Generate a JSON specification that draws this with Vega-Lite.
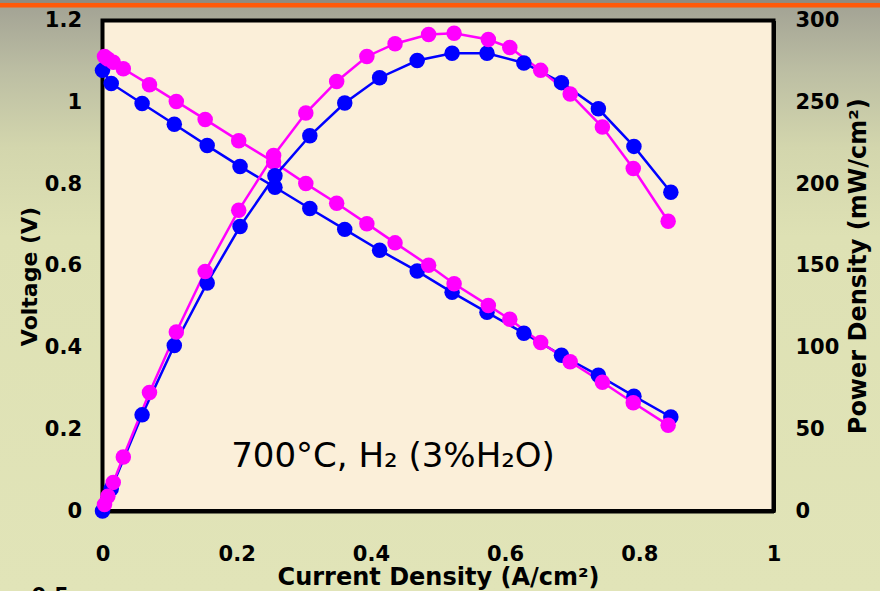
{
  "$schema": "https://vega.github.io/schema/vega-lite/v6.json",
  "width": 880,
  "height": 591,
  "padding": 0,
  "autosize": {"type": "none"},
  "background": "#e0e3b7",
  "view": {
    "stroke": null,
    "fill": {
      "gradient": "linear",
      "x1": 0, "y1": 0, "x2": 0, "y2": 1,
      "stops": [
        {"offset": 0, "color": "#8e8c82"},
        {"offset": 0.0042, "color": "#8e8c82"},
        {"offset": 0.0046, "color": "#ff5a0a"},
        {"offset": 0.0124, "color": "#ff5a0a"},
        {"offset": 0.013, "color": "#a4a495"},
        {"offset": 0.12, "color": "#bcbea3"},
        {"offset": 0.25, "color": "#d3d6ad"},
        {"offset": 0.4, "color": "#dee1b4"},
        {"offset": 1, "color": "#e1e4b8"}
      ]
    }
  },
  "config": {
    "axis": {
      "grid": false,
      "domainColor": "black",
      "domainWidth": 4,
      "tickColor": "black",
      "tickWidth": 2.5,
      "tickSize": -8,
      "labelFont": "DejaVu Sans",
      "labelFontSize": 21,
      "labelFontWeight": "bold",
      "labelColor": "black",
      "labelFlush": false,
      "labelOverlap": false,
      "titleFont": "DejaVu Sans",
      "titleFontSize": 24,
      "titleFontWeight": "bold",
      "titleColor": "black",
      "zindex": 1
    }
  },
  "datasets": {
    "iv": [
      {"s": "b", "I": 0.000, "V": 1.078, "P": 0},
      {"s": "b", "I": 0.013, "V": 1.046, "P": 13.6},
      {"s": "b", "I": 0.059, "V": 0.997, "P": 58.8},
      {"s": "b", "I": 0.107, "V": 0.946, "P": 101.2},
      {"s": "b", "I": 0.156, "V": 0.894, "P": 139.5},
      {"s": "b", "I": 0.205, "V": 0.843, "P": 174},
      {"s": "b", "I": 0.257, "V": 0.792, "P": 205},
      {"s": "b", "I": 0.309, "V": 0.740, "P": 229.5},
      {"s": "b", "I": 0.361, "V": 0.689, "P": 249.5},
      {"s": "b", "I": 0.413, "V": 0.638, "P": 265},
      {"s": "b", "I": 0.469, "V": 0.587, "P": 275.5},
      {"s": "b", "I": 0.521, "V": 0.535, "P": 280},
      {"s": "b", "I": 0.573, "V": 0.486, "P": 280},
      {"s": "b", "I": 0.628, "V": 0.435, "P": 274},
      {"s": "b", "I": 0.684, "V": 0.381, "P": 262},
      {"s": "b", "I": 0.739, "V": 0.332, "P": 246},
      {"s": "b", "I": 0.792, "V": 0.281, "P": 223},
      {"s": "b", "I": 0.847, "V": 0.230, "P": 195},
      {"s": "m", "I": 0.003, "V": 1.112, "P": 4},
      {"s": "m", "I": 0.008, "V": 1.106, "P": 9},
      {"s": "m", "I": 0.016, "V": 1.098, "P": 17.5},
      {"s": "m", "I": 0.031, "V": 1.082, "P": 33},
      {"s": "m", "I": 0.070, "V": 1.043, "P": 72.5},
      {"s": "m", "I": 0.110, "V": 1.002, "P": 109.5},
      {"s": "m", "I": 0.153, "V": 0.958, "P": 146.5},
      {"s": "m", "I": 0.203, "V": 0.906, "P": 184},
      {"s": "m", "I": 0.255, "V": 0.854, "P": 217.5},
      {"s": "m", "I": 0.303, "V": 0.801, "P": 243.4},
      {"s": "m", "I": 0.349, "V": 0.753, "P": 262.7},
      {"s": "m", "I": 0.394, "V": 0.703, "P": 278},
      {"s": "m", "I": 0.436, "V": 0.656, "P": 285.8},
      {"s": "m", "I": 0.486, "V": 0.601, "P": 291.4},
      {"s": "m", "I": 0.524, "V": 0.556, "P": 292.2},
      {"s": "m", "I": 0.575, "V": 0.503, "P": 288.4},
      {"s": "m", "I": 0.607, "V": 0.469, "P": 283.5},
      {"s": "m", "I": 0.653, "V": 0.412, "P": 269.5},
      {"s": "m", "I": 0.697, "V": 0.365, "P": 255},
      {"s": "m", "I": 0.745, "V": 0.315, "P": 234.8},
      {"s": "m", "I": 0.791, "V": 0.265, "P": 209.5},
      {"s": "m", "I": 0.843, "V": 0.210, "P": 177.2}
    ]
  },
  "layer": [
    {
      "layer": [
        {
          "data": {"values": [{}]},
          "mark": {"type": "rect", "fill": "#fbefd9", "stroke": "black", "strokeWidth": 4},
          "encoding": {
            "x": {
              "datum": 0, "type": "quantitative",
              "scale": {"domain": [0, 1], "range": [102.5, 773.5], "nice": false, "zero": false},
              "axis": {
                "orient": "bottom", "offset": -80,
                "values": [0, 0.2, 0.4, 0.6, 0.8, 1], "format": "~g",
                "title": "Current Density (A/cm²)",
                "labelPadding": 40, "titlePadding": 1
              }
            },
            "x2": {"datum": 1},
            "y": {
              "datum": 0, "type": "quantitative",
              "scale": {"domain": [0, 1.2], "range": [511, 20.5], "nice": false, "zero": false},
              "axis": {
                "orient": "left", "offset": -102.5,
                "values": [0, 0.2, 0.4, 0.6, 0.8, 1, 1.2], "format": "~g",
                "title": "Voltage (V)",
                "titleFontSize": 22,
                "titleY": 276,
                "labelPadding": 29, "titlePadding": 3
              }
            },
            "y2": {"datum": 1.2}
          }
        },
        {
          "data": {"values": [{}]},
          "mark": {"type": "text", "font": "DejaVu Sans", "fontSize": 34, "color": "black", "align": "center", "baseline": "alphabetic", "text": "700°C, H₂ (3%H₂O)"},
          "encoding": {
            "x": {"datum": 0.433, "type": "quantitative"},
            "y": {"datum": 0.107, "type": "quantitative"}
          }
        },
        {
          "data": {"values": [{}]},
          "mark": {"type": "text", "font": "DejaVu Sans", "fontSize": 21, "fontWeight": "bold", "color": "black", "align": "center", "baseline": "top", "text": "0.5"},
          "encoding": {
            "x": {"datum": -0.078, "type": "quantitative"},
            "y": {"datum": -0.184, "type": "quantitative"}
          }
        },
        {
          "data": {"name": "iv"},
          "mark": {"type": "line", "strokeWidth": 2.5},
          "encoding": {
            "x": {"field": "I", "type": "quantitative"},
            "y": {"field": "V", "type": "quantitative"},
            "color": {"field": "s", "type": "nominal", "scale": {"domain": ["b", "m"], "range": ["#0000ff", "#ff00ff"]}, "legend": null}
          }
        },
        {
          "data": {"name": "iv"},
          "mark": {"type": "point", "filled": true, "size": 240, "opacity": 1, "shape": "circle"},
          "encoding": {
            "x": {"field": "I", "type": "quantitative"},
            "y": {"field": "V", "type": "quantitative"},
            "color": {"field": "s", "type": "nominal", "legend": null}
          }
        }
      ]
    },
    {
      "layer": [
        {
          "data": {"name": "iv"},
          "mark": {"type": "line", "strokeWidth": 2.5},
          "encoding": {
            "x": {"field": "I", "type": "quantitative"},
            "y": {
              "field": "P", "type": "quantitative",
              "scale": {"domain": [0, 300], "range": [511, 20.5], "nice": false, "zero": false},
              "axis": {
                "orient": "right", "offset": -106.5,
                "values": [0, 50, 100, 150, 200, 250, 300],
                "title": "Power Density (mW/cm²)",
                "titleAngle": 270,
                "labelPadding": 29.5, "titlePadding": 32
              }
            },
            "color": {"field": "s", "type": "nominal", "legend": null}
          }
        },
        {
          "data": {"name": "iv"},
          "mark": {"type": "point", "filled": true, "size": 240, "opacity": 1, "shape": "circle"},
          "encoding": {
            "x": {"field": "I", "type": "quantitative"},
            "y": {"field": "P", "type": "quantitative"},
            "color": {"field": "s", "type": "nominal", "legend": null}
          }
        }
      ]
    }
  ],
  "resolve": {"scale": {"y": "independent"}}
}
